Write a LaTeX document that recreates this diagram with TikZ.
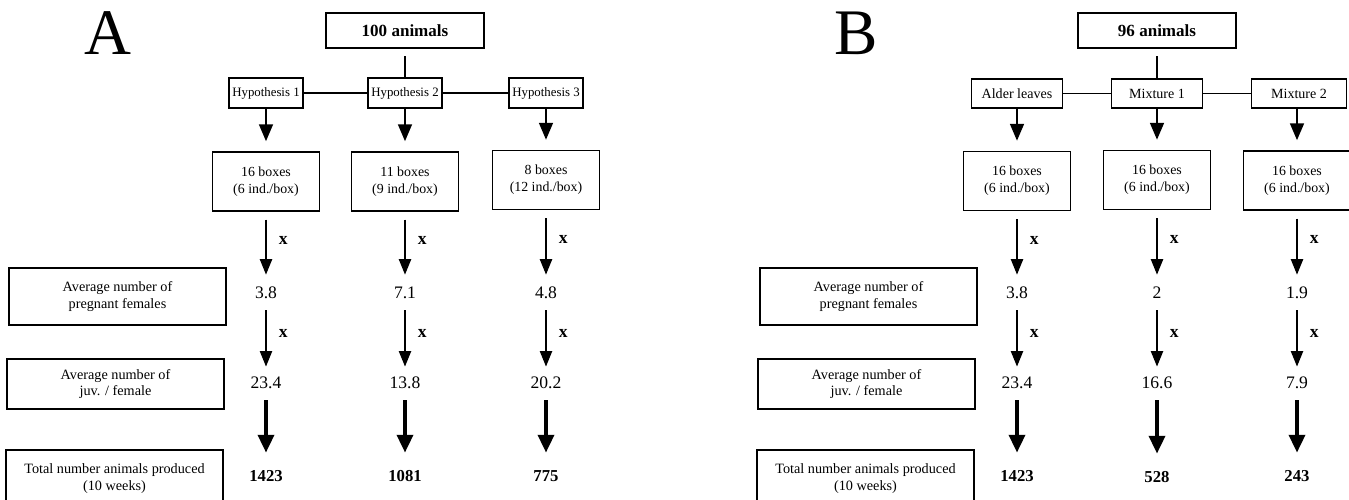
\documentclass[tikz,border=0pt]{standalone}
\usepackage{fontspec}
\setmainfont{Liberation Serif}
\usetikzlibrary{arrows.meta, positioning}

\begin{document}
\begin{tikzpicture}[x=0.02cm, y=-0.02cm,
    box/.style={draw, rectangle, line width=0.9pt, align=center, inner sep=1pt, font=\fontsize{7.9}{9.6}\selectfont},
    topbox/.style={box, line width=1.2pt, minimum width=3.16cm, minimum height=0.7cm, font=\fontsize{9.7}{11}\selectfont\bfseries},
    hypA/.style={box, minimum height=0.6cm, inner xsep=2pt, font=\fontsize{7.3}{9}\selectfont},
    hypB/.style={box, minimum height=0.58cm, minimum width=1.82cm, font=\fontsize{8}{9.6}\selectfont},
    cage/.style={box, minimum width=2.14cm, minimum height=1.18cm},
    rowname/.style={box, minimum width=4.34cm, font=\fontsize{8.1}{9.6}\selectfont},
    panel/.style={anchor=base, inner sep=0pt, font=\fontsize{37}{40}\selectfont},
    val/.style={inner sep=0pt, text height=7pt, text depth=0pt, font=\fontsize{10}{12}\selectfont},
    total/.style={val, font=\fontsize{9.5}{12}\selectfont\bfseries},
    xlab/.style={anchor=west, xshift=7pt, inner sep=0pt, font=\fontsize{10}{12}\selectfont\bfseries},
    arr/.style={-{Triangle[length=9.6pt, width=7.9pt]}, line width=1.1pt, shorten >=5.7pt},
    xarr/.style={-{Triangle[length=8.8pt, width=7pt]}, line width=0.7pt},
    bigarr/.style={-{Triangle[length=10.2pt, width=9pt]}, line width=2.3pt, shorten <=6.8pt, shorten >=9pt}]
    \useasboundingbox (0,0) rectangle (1349,500);
    \clip (0,0) rectangle (1349,500);

    \node[panel] (lblA) at (108,55) {A};
    \node[topbox] (topA) at (405,30.5) {100 animals};
    \node[hypA] (a1) at (266,93) {Hypothesis 1};
    \node[hypA, line width=1.1pt] (a2) at (405,93) {Hypothesis 2};
    \node[hypA] (a3) at (546,93) {Hypothesis 3};
    \node[cage] (ca1) at (266,181.5) {16 boxes\\(6 ind./box)};
    \node[cage] (ca2) at (405,181.5) {11 boxes\\(9 ind./box)};
    \node[cage] (ca3) at (546,180) {8 boxes\\(12 ind./box)};
    \node[rowname, minimum height=1.14cm] (rpa) at (117.5,296.5) {Average number of\\pregnant females};
    \node[rowname, minimum height=1cm] (rja) at (115.5,384) {Average number of\\juv. / female};
    \node[rowname, minimum height=1.16cm] (rta) at (114.5,479) {Total number animals produced\\(10 weeks)};
    \node[val] (pa1) at (266,292) {3.8};
    \node[val] (pa2) at (405,292) {7.1};
    \node[val] (pa3) at (546,292) {4.8};
    \node[val] (ja1) at (266,382) {23.4};
    \node[val] (ja2) at (405,382) {13.8};
    \node[val] (ja3) at (546,382) {20.2};
    \node[total] (ta1) at (266,475) {1423};
    \node[total] (ta2) at (405,475) {1081};
    \node[total] (ta3) at (546,475) {775};
    \draw[line width=0.8pt, shorten <=4pt] (topA) -- (a2);
    \draw[line width=1.1pt] (a1) -- (a2) (a2) -- (a3);
    \draw[arr] (a1) -- (ca1);
    \draw[arr] (a2) -- (ca2);
    \draw[arr] (a3) -- (ca3);
    \draw[xarr, shorten <=4.5pt, shorten >=6.2pt] (ca1) -- node[xlab, pos=0.39]{x} (pa1);
    \draw[xarr, shorten <=4.5pt, shorten >=6.2pt] (ca2) -- node[xlab, pos=0.39]{x} (pa2);
    \draw[xarr, shorten <=4.5pt, shorten >=6.2pt] (ca3) -- node[xlab, pos=0.39]{x} (pa3);
    \draw[xarr, shorten <=6.8pt, shorten >=5.1pt] (pa1) -- node[xlab, pos=0.45]{x} (ja1);
    \draw[xarr, shorten <=6.8pt, shorten >=5.1pt] (pa2) -- node[xlab, pos=0.45]{x} (ja2);
    \draw[xarr, shorten <=6.8pt, shorten >=5.1pt] (pa3) -- node[xlab, pos=0.45]{x} (ja3);
    \draw[bigarr] (ja1) -- (ta1);
    \draw[bigarr] (ja2) -- (ta2);
    \draw[bigarr] (ja3) -- (ta3);

    \node[panel] (lblB) at (856,55) {B};
    \node[topbox] (topB) at (1157,30.5) {96 animals};
    \node[hypB] (b1) at (1017,93.5) {Alder leaves};
    \node[hypB, line width=1.1pt] (b2) at (1157,93.5) {Mixture 1};
    \node[hypB, minimum width=1.9cm] (b3) at (1299,93.5) {Mixture 2};
    \node[cage] (cb1) at (1017,181) {16 boxes\\(6 ind./box)};
    \node[cage] (cb2) at (1157,180) {16 boxes\\(6 ind./box)};
    \node[cage] (cb3) at (1297,180.5) {16 boxes\\(6 ind./box)};
    \node[rowname, minimum height=1.14cm] (rpb) at (868.5,296.5) {Average number of\\pregnant females};
    \node[rowname, minimum height=1cm] (rjb) at (866.5,384) {Average number of\\juv. / female};
    \node[rowname, minimum height=1.16cm] (rtb) at (865.5,479) {Total number animals produced\\(10 weeks)};
    \node[val] (pb1) at (1017,292) {3.8};
    \node[val] (pb2) at (1157,292) {2};
    \node[val] (pb3) at (1297,292) {1.9};
    \node[val] (jb1) at (1017,382) {23.4};
    \node[val] (jb2) at (1157,382) {16.6};
    \node[val] (jb3) at (1297,382) {7.9};
    \node[total] (tb1) at (1017,475) {1423};
    \node[total] (tb2) at (1157,476) {528};
    \node[total] (tb3) at (1297,475) {243};
    \draw[line width=0.8pt, shorten <=4pt] (topB) -- (b2);
    \draw[line width=1.1pt] (b1) -- (b2) (b2) -- (b3);
    \draw[arr] (b1.south -| cb1) -- (cb1);
    \draw[arr] (b2) -- (cb2);
    \draw[arr] (b3.south -| cb3) -- (cb3);
    \draw[xarr, shorten <=4.5pt, shorten >=6.2pt] (cb1) -- node[xlab, pos=0.39]{x} (pb1);
    \draw[xarr, shorten <=4.5pt, shorten >=6.2pt] (cb2) -- node[xlab, pos=0.39]{x} (pb2);
    \draw[xarr, shorten <=4.5pt, shorten >=6.2pt] (cb3) -- node[xlab, pos=0.39]{x} (pb3);
    \draw[xarr, shorten <=6.8pt, shorten >=5.1pt] (pb1) -- node[xlab, pos=0.45]{x} (jb1);
    \draw[xarr, shorten <=6.8pt, shorten >=5.1pt] (pb2) -- node[xlab, pos=0.45]{x} (jb2);
    \draw[xarr, shorten <=6.8pt, shorten >=5.1pt] (pb3) -- node[xlab, pos=0.45]{x} (jb3);
    \draw[bigarr] (jb1) -- (tb1);
    \draw[bigarr] (jb2) -- (tb2);
    \draw[bigarr] (jb3) -- (tb3);
\end{tikzpicture}
\end{document}
